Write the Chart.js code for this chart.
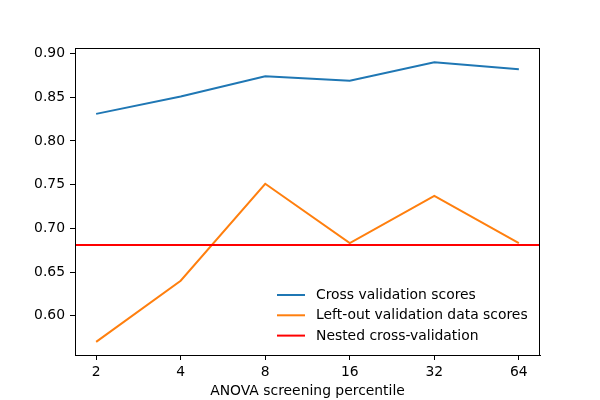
<!DOCTYPE html>
<html>
<head>
<meta charset="utf-8">
<script src="https://cdn.jsdelivr.net/npm/chart.js@4/dist/chart.umd.min.js"></script>
<style>
  html, body { margin: 0; padding: 0; background: #fff; }
  #wrap { width: 600px; height: 400px; }
</style>
</head>
<body>
<div id="wrap"><canvas id="chart" width="600" height="400"></canvas></div>
<script>
// data
const percentiles = ["2", "4", "8", "16", "32", "64"];
const cvScores = [0.831, 0.851, 0.874, 0.869, 0.890, 0.882];
const leftOutScores = [0.570, 0.640, 0.751, 0.683, 0.737, 0.683];
const nestedScore = 0.681;
const yTicks = [0.60, 0.65, 0.70, 0.75, 0.80, 0.85, 0.90];

const xMin = -0.25;
const xMax = percentiles.length - 1 + 0.25;
const yMin = 0.555;
const yMax = 0.9064;

const FONT = "'DejaVu Sans', sans-serif";
const FS = 13.9;

const toPoints = (arr) => arr.map((v, i) => ({ x: i, y: v }));

// matplotlib style box + legend inside lower right
const boxAndLegend = {
  id: "boxAndLegend",
  afterDraw(chart) {
    const { ctx, chartArea } = chart;
    ctx.save();
    ctx.strokeStyle = "#000";
    ctx.lineWidth = 1;
    ctx.strokeRect(chartArea.left + 0.5, chartArea.top + 0.5,
      chartArea.right - chartArea.left - 1, chartArea.bottom - chartArea.top);

    const items = chart.data.datasets.slice().sort((a, b) => a.legendRank - b.legendRank);
    let y = chartArea.bottom - 60;
    const x0 = chartArea.left + 202;
    ctx.font = `${FS}px ${FONT}`;
    ctx.textBaseline = "middle";
    ctx.fillStyle = "#000";
    items.forEach((ds) => {
      ctx.strokeStyle = ds.borderColor;
      ctx.lineWidth = 2;
      ctx.beginPath();
      ctx.moveTo(x0, y);
      ctx.lineTo(x0 + 28, y);
      ctx.stroke();
      ctx.fillText(ds.label, x0 + 39, y + 0.5);
      y += 20.3;
    });
    ctx.restore();
  },
};

new Chart(document.getElementById("chart"), {
  type: "line",
  data: {
    datasets: [
      {
        label: "Nested cross-validation",
        data: [{ x: xMin, y: nestedScore }, { x: xMax, y: nestedScore }],
        borderColor: "#ff0000",
        borderWidth: 2,
        pointRadius: 0,
        order: 0,
        legendRank: 2,
      },
      {
        label: "Left-out validation data scores",
        data: toPoints(leftOutScores),
        borderColor: "#ff7f0e",
        borderWidth: 2,
        pointRadius: 0,
        order: 1,
        legendRank: 1,
      },
      {
        label: "Cross validation scores",
        data: toPoints(cvScores),
        borderColor: "#1f77b4",
        borderWidth: 2,
        pointRadius: 0,
        order: 2,
        legendRank: 0,
      },
    ],
  },
  options: {
    responsive: false,
    animation: false,
    layout: { padding: { top: 48, right: 60, left: 0, bottom: 0 } },
    plugins: { legend: { display: false }, tooltip: { enabled: false } },
    scales: {
      x: {
        type: "linear",
        min: xMin,
        max: xMax,
        afterFit: (s) => { s.height = 45; },
        afterBuildTicks: (s) => { s.ticks = percentiles.map((p, i) => ({ value: i })); },
        grid: { drawOnChartArea: false, drawTicks: true, tickLength: 5, color: "#000" },
        border: { display: true, color: "#000", width: 1 },
        ticks: {
          padding: 4,
          color: "#000",
          font: { family: FONT, size: FS },
          maxRotation: 0,
          callback: (v) => percentiles[v],
        },
        title: {
          display: true,
          text: "ANOVA screening percentile",
          color: "#000",
          font: { family: FONT, size: FS },
          padding: { top: 0, bottom: 0 },
        },
      },
      y: {
        min: yMin,
        max: yMax,
        afterFit: (s) => { s.width = 75; },
        afterBuildTicks: (s) => { s.ticks = yTicks.map((v) => ({ value: v })); },
        grid: { drawOnChartArea: false, drawTicks: true, tickLength: 5, color: "#000" },
        border: { display: true, color: "#000", width: 1 },
        ticks: {
          padding: 5,
          color: "#000",
          font: { family: FONT, size: FS },
          callback: (v) => v.toFixed(2),
        },
      },
    },
  },
  plugins: [boxAndLegend],
});
</script>
</body>
</html>
